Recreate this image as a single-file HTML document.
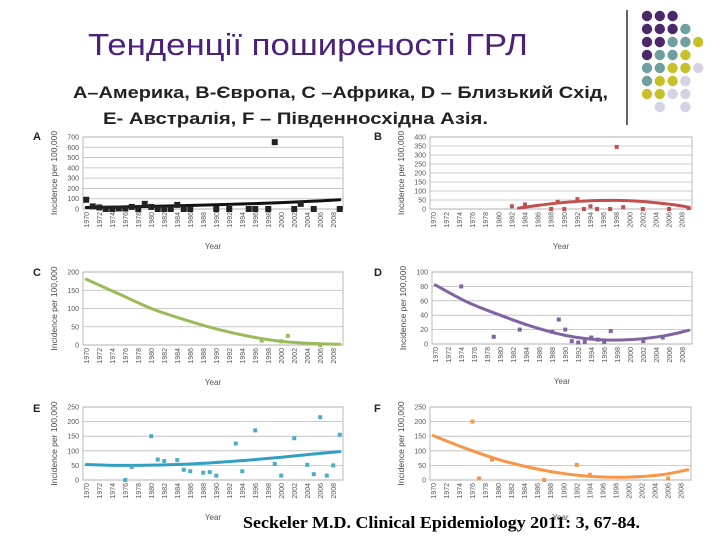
<!DOCTYPE html>
<html><head><meta charset="utf-8">
<style>
html,body{margin:0;padding:0;background:#fff;}
svg{display:block;}
</style></head>
<body>
<svg id="root" width="720" height="540" viewBox="0 0 720 540" xmlns="http://www.w3.org/2000/svg">
  <text x="88" y="55" font-family="Liberation Sans, sans-serif" font-size="31" fill="#4a2279" textLength="440" lengthAdjust="spacingAndGlyphs">Тенденції поширеності ГРЛ</text>
  <text x="73" y="98" font-family="Liberation Sans, sans-serif" font-size="17" font-weight="bold" fill="#222" textLength="535" lengthAdjust="spacingAndGlyphs">A–Америка, B-Європа, C –Африка, D – Близький Схід,</text>
  <text x="103" y="124" font-family="Liberation Sans, sans-serif" font-size="17" font-weight="bold" fill="#222" textLength="385" lengthAdjust="spacingAndGlyphs">E- Австралія, F – Південносхідна Азія.</text>
  <line x1="627" y1="10" x2="627" y2="125" stroke="#333" stroke-width="1.5"/>
  <g id="dots"></g>
  <g id="charts"></g>
  <text x="243" y="528" font-family="Liberation Serif, serif" font-size="17" font-weight="bold" fill="#000" textLength="397" lengthAdjust="spacingAndGlyphs">Seckeler M.D. Clinical Epidemiology 2011: 3, 67-84.</text>
</svg>
<script>
// ---- Panel A (America)
const aYears=[1970,1971,1972,1973,1974,1975,1976,1977,1978,1979,1980,1981,1982,1983,1984,1985,1986,1990,1992,1995,1996,1998,1999,2002,2003,2005,2009];
const aValues=[90,25,15,0,0,5,5,20,0,50,20,0,0,0,40,0,0,0,0,0,0,0,650,0,50,0,0];
const aTrendYears=[1970,1975,1980,1985,1990,1995,2000,2005,2009];
const aTrendValues=[15,20,26,33,41,51,62,76,90];
// ---- Panel B (Europe)
const bYears=[1982,1984,1988,1989,1990,1992,1993,1994,1995,1997,1998,1999,2002,2006,2009];
const bValues=[15,25,0,40,0,55,0,15,0,0,345,10,0,0,5];
const bTrendYears=[1983,1986,1989,1992,1995,1998,2001,2004,2007,2009];
const bTrendValues=[5,20,33,42,47,48,44,35,22,10];
// ---- Panel C (Africa)
const cYears=[1997,2000,2001,2006];
const cValues=[12,10,25,0];
const cTrendYears=[1970,1975,1980,1985,1990,1995,2000,2005,2009];
const cTrendValues=[180,140,100,70,44,24,10,4,2];
// ---- Panel D (Middle East)
const dYears=[1974,1979,1983,1988,1989,1990,1991,1992,1993,1994,1995,1996,1997,2002,2005];
const dValues=[80,10,20,17,34,20,4,2,3,9,6,3,18,4,9];
const dTrendYears=[1970,1975,1980,1985,1990,1995,2000,2005,2009];
const dTrendValues=[82,58,40,24,12,6,6,11,19];
// ---- Panel E (Australia)
const eYears=[1976,1977,1980,1981,1982,1984,1985,1986,1988,1989,1990,1993,1994,1996,1999,2000,2002,2004,2005,2006,2007,2008,2009];
const eValues=[0,45,150,70,65,68,35,30,25,27,15,125,30,170,55,15,143,52,20,215,15,50,155];
const eTrendYears=[1970,1975,1980,1985,1990,1995,2000,2005,2009];
const eTrendValues=[53,50,51,54,60,68,78,89,97];
// ---- Panel F (South-East Asia)
const fYears=[1976,1977,1979,1987,1992,1994,2006];
const fValues=[200,5,70,0,52,18,5];
const fTrendYears=[1970,1975,1980,1985,1990,1995,2000,2005,2009];
const fTrendValues=[152,108,70,42,22,11,10,18,35];

const yTicksA=[0,100,200,300,400,500,600,700];
const yTicksB=[0,50,100,150,200,250,300,350,400];
const yTicksC=[0,50,100,150,200];
const yTicksD=[0,20,40,60,80,100];
const yTicksE=[0,50,100,150,200,250];
const yTicksF=[0,50,100,150,200,250];
const xLabelYears=[1970,1972,1974,1976,1978,1980,1982,1984,1986,1988,1990,1992,1994,1996,1998,2000,2002,2004,2006,2008];

const NS='http://www.w3.org/2000/svg';
function mk(tag,attrs,parent){const e=document.createElementNS(NS,tag);for(const k in attrs)e.setAttribute(k,attrs[k]);parent.appendChild(e);return e;}

const P='#4b2868',T='#6f9fa0',Y='#c8c02a',L='#d3d3e3';
const dotRows=[[P,P,P],[P,P,P,T],[P,P,T,T,Y],[P,T,T,Y],[T,T,Y,Y,L],[T,Y,Y,L],[Y,Y,L,L],[null,L,null,L]];
const dotsG=document.getElementById('dots');
dotRows.forEach((row,ri)=>{row.forEach((c,ci)=>{if(!c)return;
  const d=mk('circle',{cx:647+ci*12.8,cy:16+ri*13,r:5.2,fill:c},dotsG);
  
  
});});

const panels=[
 {id:'a',letter:'A',lx:33,ly:140,l:83,r:343,t:137,b:209,max:700,ticks:yTicksA,years:aYears,vals:aValues,ty:aTrendYears,tv:aTrendValues,color:'#111',mc:'#222',ms:6,lw:3},
 {id:'b',letter:'B',lx:374,ly:140,l:430,r:692,t:137,b:209,max:400,ticks:yTicksB,years:bYears,vals:bValues,ty:bTrendYears,tv:bTrendValues,color:'#c0504d',mc:'#c0504d',ms:4,lw:3},
 {id:'c',letter:'C',lx:33,ly:276,l:83,r:343,t:272,b:345,max:200,ticks:yTicksC,years:cYears,vals:cValues,ty:cTrendYears,tv:cTrendValues,color:'#9bbb59',mc:'#9bbb59',ms:4,lw:3},
 {id:'d',letter:'D',lx:374,ly:276,l:432,r:692,t:272,b:344,max:100,ticks:yTicksD,years:dYears,vals:dValues,ty:dTrendYears,tv:dTrendValues,color:'#8064a2',mc:'#8064a2',ms:4,lw:3},
 {id:'e',letter:'E',lx:33,ly:412,l:83,r:343,t:407,b:480,max:250,ticks:yTicksE,years:eYears,vals:eValues,ty:eTrendYears,tv:eTrendValues,color:'#31a0c0',mc:'#4bacc6',ms:4,lw:3},
 {id:'f',letter:'F',lx:374,ly:412,l:430,r:691,t:407,b:480,max:250,ticks:yTicksF,years:fYears,vals:fValues,ty:fTrendYears,tv:fTrendValues,color:'#f79646',mc:'#f79646',ms:4,lw:3}
];
const root=document.getElementById('charts');
panels.forEach(p=>{
  const g=mk('g',{},root);
  
  
  const x=yr=>p.l+(yr-1970+0.5)*(p.r-p.l)/40;
  const y=v=>p.b-v/p.max*(p.b-p.t);
  const letter=mk('text',{x:p.lx,y:p.ly,'font-family':'Liberation Sans, sans-serif','font-size':11,'font-weight':'bold',fill:'#222'},g);
  letter.textContent=p.letter;
  
  
  p.ticks.forEach(tv=>{
    const gl=mk('line',{x1:p.l,x2:p.r,y1:y(tv),y2:y(tv),stroke:'#bbb','stroke-width':0.8},g);
    
    
    const tl=mk('text',{x:p.l-4,y:y(tv)+2.5,'text-anchor':'end','font-family':'Liberation Sans, sans-serif','font-size':7,fill:'#555'},g);
    tl.textContent=tv;
    
    
  });
  const fr=mk('rect',{x:p.l,y:p.t,width:p.r-p.l,height:p.b-p.t,fill:'none',stroke:'#aaa','stroke-width':0.8},g);
  
  
  xLabelYears.forEach(yr=>{
    const xl=mk('text',{transform:`translate(${x(yr)+2.5},${p.b+3}) rotate(-90)`,'text-anchor':'end','font-family':'Liberation Sans, sans-serif','font-size':7,fill:'#555'},g);
    xl.textContent=yr;
    
    
  });
  const xt=mk('text',{x:(p.l+p.r)/2,y:p.b+40,'text-anchor':'middle','font-family':'Liberation Sans, sans-serif','font-size':8,fill:'#555'},g);
  xt.textContent='Year';
  
  
  const yt=mk('text',{transform:`translate(${p.l-26},${(p.t+p.b)/2}) rotate(-90)`,'text-anchor':'middle','font-family':'Liberation Sans, sans-serif','font-size':8.5,fill:'#444'},g);
  yt.textContent='Incidence per 100,000';
  
  
  const pts=p.ty.map((yr,i)=>[x(yr),y(p.tv[i])]);
  let d='M'+pts[0][0]+','+pts[0][1];
  for(let i=0;i<pts.length-1;i++){
    const p0=pts[Math.max(0,i-1)],p1=pts[i],p2=pts[i+1],p3=pts[Math.min(pts.length-1,i+2)];
    d+=` C${p1[0]+(p2[0]-p0[0])/6},${p1[1]+(p2[1]-p0[1])/6} ${p2[0]-(p3[0]-p1[0])/6},${p2[1]-(p3[1]-p1[1])/6} ${p2[0]},${p2[1]}`;
  }
  const tr=mk('path',{d:d,fill:'none',stroke:p.color,'stroke-width':p.lw,'stroke-linecap':'round'},g);
  
  
  p.years.forEach((yr,i)=>{
    const m=mk('rect',{x:x(yr)-p.ms/2,y:y(p.vals[i])-p.ms/2,width:p.ms,height:p.ms,fill:p.mc},g);
    
    
  });
});
</script>
</body></html>
